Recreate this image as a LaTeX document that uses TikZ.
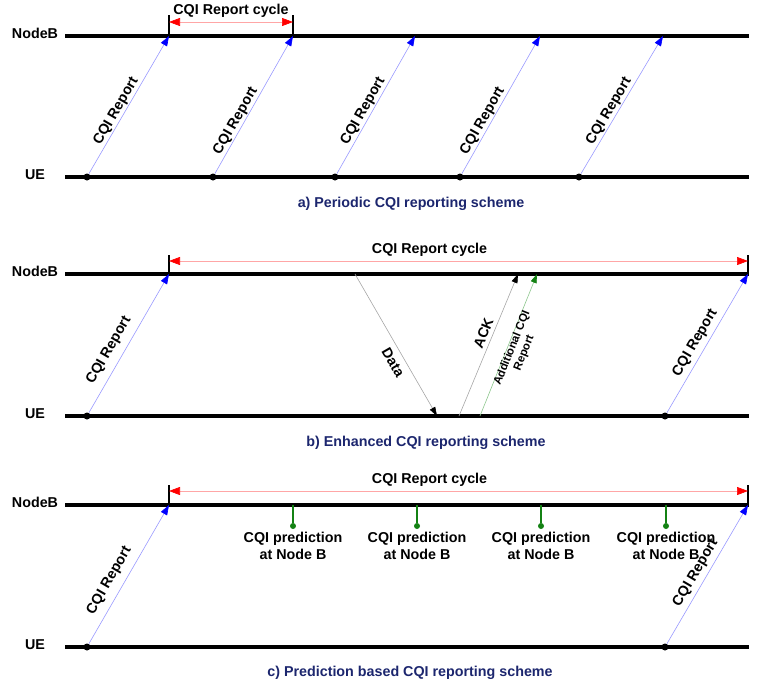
\documentclass[tikz,border=0pt]{standalone}
\usepackage{fontspec}
\setmainfont{Liberation Sans}
\usetikzlibrary{arrows.meta,positioning}
\definecolor{capblue}{RGB}{28,38,110}
\definecolor{predgreen}{RGB}{20,130,20}

\begin{document}
\begin{tikzpicture}[x=1pt,y=-1pt,every node/.append style={font=\bfseries\fontsize{14.3}{17}\selectfont}]
    \tikzstyle{life}=[line width=3.2pt]
    \tikzstyle{bound}=[line width=1.3pt]
    \tikzstyle{dot}=[circle, fill=black, inner sep=0pt, minimum size=7pt]
    \tikzstyle{gdot}=[circle, fill=predgreen, inner sep=0pt, minimum size=6pt]
    \tikzstyle{stem}=[predgreen, line width=1.5pt]
    \tikzstyle{report}=[blue!40, line width=0.6pt, -{Triangle[length=10pt,width=7pt,color=blue]}]
    \tikzstyle{msg}=[black!35, line width=0.6pt, -{Triangle[length=9pt,width=6pt,color=black]}]
    \tikzstyle{extra}=[green!50!black!45, line width=0.6pt, -{Triangle[length=9pt,width=6pt,color=predgreen]}]
    \tikzstyle{period}=[red!35, line width=0.6pt, {Triangle[length=11pt,width=8pt,color=red]}-{Triangle[length=11pt,width=8pt,color=red]}]
    \tikzstyle{lbl}=[sloped, inner sep=1pt, text=black]
    \tikzstyle{capt}=[anchor=base, text=capblue]
    \useasboundingbox (0,0) rectangle (761,683);

    % NodeB / UE lines of the three schemes
    \foreach \p/\yn/\yu in {a/36/177,b/274/416,c/505/647} {
        \node[anchor=base] (nodeb\p) at (35,\yn+2) {NodeB};
        \node[anchor=base] (ue\p) at (35,\yu+2) {UE};
        \coordinate (nl\p) at (65,\yn);
        \coordinate (nr\p) at (749,\yn);
        \coordinate (ul\p) at (65,\yu);
        \coordinate (ur\p) at (749,\yu);
        \draw[life] (nl\p) -- (nr\p);
        \draw[life] (ul\p) -- (ur\p);
    }

    % a) periodic
    \foreach \i/\xu/\xn/\t in {1/87/169/0.425,2/213/293/0.355,3/335/415/0.425,4/460/540/0.355,5/579/663/0.425} {
        \node[dot] (ua\i) at (\xu,177) {};
        \coordinate (na\i) at (\xn,36);
        \draw[report] (ua\i) -- (na\i) node[lbl, pos=\t, above] {CQI Report};
    }
    \coordinate (ta1) at (169,15);
    \coordinate (ta2) at (293,15);
    \coordinate (ca1) at (169,22);
    \coordinate (ca2) at (293,22);
    \draw[bound] (ta1) -- (na1);
    \draw[bound] (ta2) -- (na2);
    \draw[period] (ca1) -- (ca2) node[midway, above=4pt, inner sep=0pt, text=black] {CQI Report cycle};
    \node[capt] (capa) at (411,207) {a) Periodic CQI reporting scheme};

    % b) enhanced
    \node[dot] (ub1) at (87,416) {};
    \node[dot] (ub2) at (665,416) {};
    \coordinate (nb1) at (169,274);
    \coordinate (nb2) at (748,274);
    \coordinate (tb1) at (169,255);
    \coordinate (tb2) at (748,255);
    \coordinate (cb1) at (169,261);
    \coordinate (cb2) at (748,261);
    \coordinate (dd1) at (355,274);
    \coordinate (dd2) at (437,416);
    \coordinate (ak1) at (459,416);
    \coordinate (ak2) at (518,274);
    \coordinate (ad1) at (480,416);
    \coordinate (ad2) at (537,274);
    \draw[bound] (tb1) -- (nb1);
    \draw[bound] (tb2) -- (nb2);
    \draw[period] (cb1) -- (cb2) node[pos=0.45, above=4pt, inner sep=0pt, text=black] {CQI Report cycle};
    \draw[report] (ub1) -- (nb1) node[lbl, pos=0.4, above=6pt] {CQI Report};
    \draw[report] (ub2) -- (nb2) node[lbl, pos=0.465, above=3pt] {CQI Report};
    \draw[msg] (dd1) -- (dd2) node[lbl, pos=0.585, below=5pt] {Data};
    \draw[msg] (ak1) -- (ak2) node[lbl, pos=0.56, above=3pt] {ACK};
    \draw[extra] (ad1) -- (ad2) node[lbl, pos=0.49, below=-2pt, align=center, font=\bfseries\fontsize{11.4}{13}\selectfont] {Additional CQI\\Report};
    \node[capt] (capb) at (426,446) {b) Enhanced CQI reporting scheme};

    % c) prediction based
    \node[dot] (uc1) at (87,647) {};
    \node[dot] (uc2) at (665,647) {};
    \coordinate (nc1) at (169,505);
    \coordinate (nc2) at (748,505);
    \coordinate (tc1) at (169,485);
    \coordinate (tc2) at (748,485);
    \coordinate (cc1) at (169,491);
    \coordinate (cc2) at (748,491);
    \draw[bound] (tc1) -- (nc1);
    \draw[bound] (tc2) -- (nc2);
    \draw[period] (cc1) -- (cc2) node[pos=0.45, above=4pt, inner sep=0pt, text=black] {CQI Report cycle};
    \foreach \i/\xs in {1/293,2/417,3/541,4/666} {
        \coordinate (s\i) at (\xs,505);
        \node[gdot] (p\i) at (\xs,526) {};
        \draw[stem] (s\i) -- (p\i);
        \node[below=3pt of p\i, align=center, inner sep=0pt] (pt\i) {CQI prediction\\at Node B};
    }
    \draw[report] (uc1) -- (nc1) node[lbl, pos=0.405, above=6pt] {CQI Report};
    \draw[report] (uc2) -- (nc2) node[lbl, pos=0.47, above=3pt] {CQI Report};
    \node[capt] (capc) at (410,676) {c) Prediction based CQI reporting scheme};
\end{tikzpicture}
\end{document}
